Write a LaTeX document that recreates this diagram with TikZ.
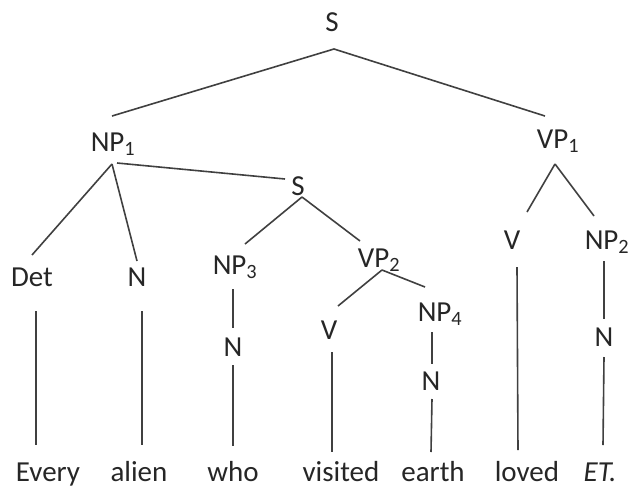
\documentclass[tikz,border=0pt]{standalone}
\usepackage{fontspec}
\setmainfont{Carlito}
\usepackage{tikz}
\usetikzlibrary{positioning}

\begin{document}
\begin{tikzpicture}[
    x=1pt, y=-1pt,
    cat/.style={anchor=base, inner sep=0pt, text=black!85, font=\fontsize{29}{34}\selectfont},
    word/.style={cat},
    branch/.style={line width=1.6pt, black!75}
]
    \useasboundingbox (0,0) rectangle (630,491);

    % Nodi categoriali
    \node[cat] (S)    at (332,31)  {S};
    \node[cat] (NPa)  at (113,151) {NP\textsubscript{1}};
    \node[cat] (VPa)  at (558,148) {VP\textsubscript{1}};
    \node[cat] (Sb)   at (298,195) {S};
    \node[cat] (Det)  at (32,286)  {Det};
    \node[cat] (Nb)   at (137,286) {N};
    \node[cat] (NPc)  at (235,274) {NP\textsubscript{3}};
    \node[cat] (VPb)  at (379,267) {VP\textsubscript{2}};
    \node[cat] (Vc)   at (329,339) {V};
    \node[cat] (NPd)  at (440,321) {NP\textsubscript{4}};
    \node[cat] (Nd)   at (233,356) {N};
    \node[cat] (Ne)   at (431,390) {N};
    \node[cat] (Vf)   at (512,249) {V};
    \node[cat] (NPb)  at (607,249) {NP\textsubscript{2}};
    \node[cat] (Ng)   at (604,346) {N};

    % Parole
    \node[word] (every)   at (48,481)  {Every};
    \node[word] (alien)   at (139,481) {alien};
    \node[word] (who)     at (233,481) {who};
    \node[word] (visited) at (341,481) {visited};
    \node[word] (earth)   at (433,481) {earth};
    \node[word] (loved)   at (527,481) {loved};
    \node[word] (ET)      at (600,481) {\textit{ET.}};

    % Rami
    \draw[branch] ([shift={(2,18)}]S.base) -- ([shift={(-1,-35)}]NPa.base);
    \draw[branch] ([shift={(2,18)}]S.base) -- ([shift={(-13,-32)}]VPa.base);
    \draw[branch] ([shift={(-1,13)}]NPa.base) -- ([shift={(0,-31)}]Det.base);
    \draw[branch] ([shift={(-1,13)}]NPa.base) -- ([shift={(0,-25)}]Nb.base);
    \draw[branch] ([shift={(4,12)}]NPa.base) -- ([shift={(-13,-16)}]Sb.base);
    \draw[branch] ([shift={(4,2)}]Sb.base) -- ([shift={(10,-30)}]NPc.base);
    \draw[branch] ([shift={(4,2)}]Sb.base) -- ([shift={(-19,-26)}]VPb.base);
    \draw[branch] ([shift={(3,3)}]VPb.base) -- ([shift={(9,-33)}]Vc.base);
    \draw[branch] ([shift={(3,3)}]VPb.base) -- ([shift={(-15,-34)}]NPd.base);
    \draw[branch] ([shift={(-8,11)}]NPd.base) -- ([shift={(1,-26)}]Ne.base);
    \draw[branch] ([shift={(-2,15)}]NPc.base) -- ([shift={(0,-28)}]Nd.base);
    \draw[branch] ([shift={(-3,16)}]VPa.base) -- ([shift={(15,-37)}]Vf.base);
    \draw[branch] ([shift={(-3,16)}]VPa.base) -- ([shift={(-13,-33)}]NPb.base);
    \draw[branch] ([shift={(-3,12)}]NPb.base) -- ([shift={(0,-27)}]Ng.base);

    % Rami verso le parole
    \draw[branch] ([shift={(4,25)}]Det.base) -- ([shift={(-12,-36)}]every.base);
    \draw[branch] ([shift={(5,25)}]Nb.base) -- ([shift={(3,-36)}]alien.base);
    \draw[branch] ([shift={(0,9)}]Nd.base) -- ([shift={(0,-35)}]who.base);
    \draw[branch] ([shift={(3,13)}]Vc.base) -- ([shift={(-9,-29)}]visited.base);
    \draw[branch] ([shift={(1,9)}]Ne.base) -- ([shift={(-2,-29)}]earth.base);
    \draw[branch] ([shift={(5,18)}]Vf.base) -- ([shift={(-9,-31)}]loved.base);
    \draw[branch] ([shift={(0,11)}]Ng.base) -- ([shift={(3,-36)}]ET.base);

\end{tikzpicture}
\end{document}
